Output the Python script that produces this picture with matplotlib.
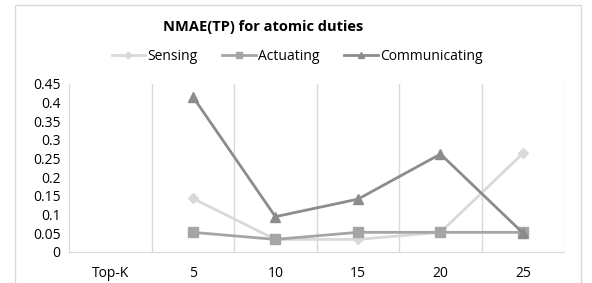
import matplotlib
matplotlib.use("Agg")
import matplotlib.pyplot as plt
from matplotlib.patches import Rectangle

categories = ["Top-K", "5", "10", "15", "20", "25"]
sensing = [None, 0.143, 0.033, 0.033, 0.052, 0.264]
actuating = [None, 0.052, 0.033, 0.052, 0.052, 0.052]
communicating = [None, 0.416, 0.094, 0.141, 0.262, 0.050]
yticks = [0, 0.05, 0.1, 0.15, 0.2, 0.25, 0.3, 0.35, 0.4, 0.45]
ytick_labels = ["0", "0.05", "0.1", "0.15", "0.2", "0.25", "0.3", "0.35", "0.4", "0.45"]

plt.rcParams['font.family'] = ['Open Sans', 'DejaVu Sans']

W, H = 592, 283
fig = plt.figure(figsize=(W / 100, H / 100), dpi=100)
fig.patch.set_facecolor("white")

# outer frame
fig.patches.append(Rectangle((15 / W, -0.01), (581 - 15) / W, (H - 5) / H + 0.01,
                             transform=fig.transFigure, fill=False,
                             edgecolor="#d9d9d9", linewidth=1.0))

ax = fig.add_axes([69 / W, (H - 251.7) / H, (564.3 - 69) / W, (251.7 - 84) / H])

x = list(range(len(categories)))

def pts(vals):
    xs = [i for i, v in zip(x, vals) if v is not None]
    ys = [v for v in vals if v is not None]
    return xs, ys

xs, ys = pts(sensing)
ax.plot(xs, ys, color="#d9d9d9", lw=2.0, marker="D", ms=5, mfc="#d9d9d9", mec="#d9d9d9", label="Sensing", zorder=3)
xs, ys = pts(actuating)
ax.plot(xs, ys, color="#a5a5a5", lw=2.0, marker="s", ms=7, mfc="#a5a5a5", mec="#a5a5a5", label="Actuating", zorder=4)
xs, ys = pts(communicating)
ax.plot(xs, ys, color="#8c8c8c", lw=2.0, marker="^", ms=7, mfc="#8c8c8c", mec="#8c8c8c", label="Communicating", zorder=5)

ax.set_xlim(-0.5, len(categories) - 0.5)
ax.set_ylim(0, 0.45)
ax.set_xticks(x)
ax.set_xticklabels(categories)
ax.set_yticks(yticks)
ax.set_yticklabels(ytick_labels)
ax.tick_params(axis="both", length=0, labelsize=10, colors="#000000")
ax.tick_params(axis="x", pad=10)
ax.tick_params(axis="y", pad=6)

for b in [i + 0.5 for i in range(len(categories))]:
    ax.axvline(b, color="#d9d9d9", lw=1.0, zorder=1)

for s in ["top", "right"]:
    ax.spines[s].set_visible(False)
ax.spines["left"].set_color("#d9d9d9")
ax.spines["bottom"].set_color("#d9d9d9")

fig.text(0.5 * (163 + 363) / W, 1 - 27 / H, "NMAE(TP) for atomic duties",
         ha="center", va="center", fontsize=10.5, fontweight="bold")

fig.legend(loc="center", bbox_to_anchor=(297 / W, 1 - 56 / H), ncol=3, frameon=False,
           fontsize=10, handlelength=2.4, columnspacing=1.8, handletextpad=0.15,
           markerscale=0.7)

fig.savefig("out.png", dpi=100)
